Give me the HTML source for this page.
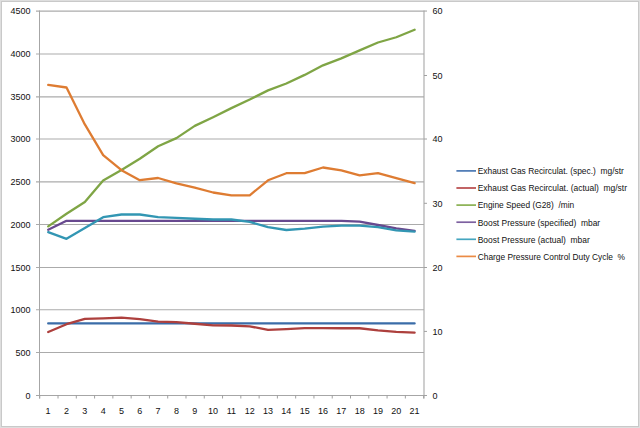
<!DOCTYPE html>
<html><head><meta charset="utf-8"><style>
html,body{margin:0;padding:0;background:#fff;}
body{width:640px;height:428px;overflow:hidden;position:relative;}
svg{position:absolute;left:0;top:0;display:block;}
text{font-family:"Liberation Sans",sans-serif;font-size:9px;fill:#111;}
</style></head><body>
<svg width="640" height="428" viewBox="0 0 640 428">
<rect x="0" y="0" width="640" height="428" fill="#fff"/>
<rect x="0.5" y="0.5" width="639" height="427" fill="none" stroke="#dedede" stroke-width="1"/>
<rect x="1.5" y="1.5" width="637" height="425" fill="none" stroke="#c9c9c9" stroke-width="1"/>
<defs><filter id="bl" x="-5%" y="-5%" width="110%" height="110%"><feGaussianBlur stdDeviation="0.3"/></filter></defs>
<g shape-rendering="auto"><line x1="36" x2="424" y1="11.05" y2="11.05" stroke="#ababab" stroke-width="1.15"/>
<line x1="36" x2="424" y1="54.00" y2="54.00" stroke="#ababab" stroke-width="1.15"/>
<line x1="36" x2="424" y1="96.80" y2="96.80" stroke="#ababab" stroke-width="1.15"/>
<line x1="36" x2="424" y1="139.00" y2="139.00" stroke="#ababab" stroke-width="1.15"/>
<line x1="36" x2="424" y1="181.80" y2="181.80" stroke="#ababab" stroke-width="1.15"/>
<line x1="36" x2="424" y1="224.50" y2="224.50" stroke="#ababab" stroke-width="1.15"/>
<line x1="36" x2="424" y1="267.50" y2="267.50" stroke="#ababab" stroke-width="1.15"/>
<line x1="36" x2="424" y1="309.70" y2="309.70" stroke="#ababab" stroke-width="1.15"/>
<line x1="36" x2="424" y1="352.50" y2="352.50" stroke="#ababab" stroke-width="1.15"/></g>
<g><line x1="39.5" x2="39.5" y1="10.5" y2="398.5" stroke="#a6a6a6" stroke-width="1"/>
<line x1="424" x2="424" y1="10.5" y2="398.5" stroke="#ababab" stroke-width="1.15"/>
<line x1="36" x2="426.5" y1="395.5" y2="395.5" stroke="#a6a6a6" stroke-width="1"/>
<line x1="39.75" x2="39.75" y1="395" y2="398.5" stroke="#a0a0a0" stroke-width="1"/>
<line x1="58.03" x2="58.03" y1="395" y2="398.5" stroke="#a0a0a0" stroke-width="1"/>
<line x1="76.31" x2="76.31" y1="395" y2="398.5" stroke="#a0a0a0" stroke-width="1"/>
<line x1="94.59" x2="94.59" y1="395" y2="398.5" stroke="#a0a0a0" stroke-width="1"/>
<line x1="112.87" x2="112.87" y1="395" y2="398.5" stroke="#a0a0a0" stroke-width="1"/>
<line x1="131.15" x2="131.15" y1="395" y2="398.5" stroke="#a0a0a0" stroke-width="1"/>
<line x1="149.43" x2="149.43" y1="395" y2="398.5" stroke="#a0a0a0" stroke-width="1"/>
<line x1="167.71" x2="167.71" y1="395" y2="398.5" stroke="#a0a0a0" stroke-width="1"/>
<line x1="185.99" x2="185.99" y1="395" y2="398.5" stroke="#a0a0a0" stroke-width="1"/>
<line x1="204.27" x2="204.27" y1="395" y2="398.5" stroke="#a0a0a0" stroke-width="1"/>
<line x1="222.55" x2="222.55" y1="395" y2="398.5" stroke="#a0a0a0" stroke-width="1"/>
<line x1="240.83" x2="240.83" y1="395" y2="398.5" stroke="#a0a0a0" stroke-width="1"/>
<line x1="259.11" x2="259.11" y1="395" y2="398.5" stroke="#a0a0a0" stroke-width="1"/>
<line x1="277.39" x2="277.39" y1="395" y2="398.5" stroke="#a0a0a0" stroke-width="1"/>
<line x1="295.67" x2="295.67" y1="395" y2="398.5" stroke="#a0a0a0" stroke-width="1"/>
<line x1="313.95" x2="313.95" y1="395" y2="398.5" stroke="#a0a0a0" stroke-width="1"/>
<line x1="332.23" x2="332.23" y1="395" y2="398.5" stroke="#a0a0a0" stroke-width="1"/>
<line x1="350.51" x2="350.51" y1="395" y2="398.5" stroke="#a0a0a0" stroke-width="1"/>
<line x1="368.79" x2="368.79" y1="395" y2="398.5" stroke="#a0a0a0" stroke-width="1"/>
<line x1="387.07" x2="387.07" y1="395" y2="398.5" stroke="#a0a0a0" stroke-width="1"/>
<line x1="405.35" x2="405.35" y1="395" y2="398.5" stroke="#a0a0a0" stroke-width="1"/>
<line x1="423.63" x2="423.63" y1="395" y2="398.5" stroke="#a0a0a0" stroke-width="1"/>
<line x1="424" x2="427" y1="395.50" y2="395.50" stroke="#a0a0a0" stroke-width="1"/>
<line x1="424" x2="427" y1="331.40" y2="331.40" stroke="#a0a0a0" stroke-width="1"/>
<line x1="424" x2="427" y1="267.50" y2="267.50" stroke="#a0a0a0" stroke-width="1"/>
<line x1="424" x2="427" y1="203.30" y2="203.30" stroke="#a0a0a0" stroke-width="1"/>
<line x1="424" x2="427" y1="139.00" y2="139.00" stroke="#a0a0a0" stroke-width="1"/>
<line x1="424" x2="427" y1="75.50" y2="75.50" stroke="#a0a0a0" stroke-width="1"/>
<line x1="424" x2="427" y1="11.05" y2="11.05" stroke="#a0a0a0" stroke-width="1"/></g>
<g filter="url(#bl)"><polyline points="48.20,323.40 66.52,323.40 84.84,323.40 103.16,323.40 121.48,323.40 139.80,323.40 158.12,323.40 176.44,323.40 194.76,323.40 213.08,323.40 231.40,323.40 249.72,323.40 268.04,323.40 286.36,323.40 304.68,323.40 323.00,323.40 341.32,323.40 359.64,323.40 377.96,323.40 396.28,323.40 414.60,323.40" fill="none" stroke="#3b6ca8" stroke-width="2.3" stroke-linejoin="round" stroke-linecap="round"/>
<polyline points="48.20,332.00 66.52,324.20 84.84,318.90 103.16,318.30 121.48,317.60 139.80,319.10 158.12,321.70 176.44,322.20 194.76,323.75 213.08,325.30 231.40,325.50 249.72,326.30 268.04,329.90 286.36,329.10 304.68,328.10 323.00,328.20 341.32,328.25 359.64,328.25 377.96,330.30 396.28,331.80 414.60,332.60" fill="none" stroke="#ad3f3d" stroke-width="2.3" stroke-linejoin="round" stroke-linecap="round"/>
<polyline points="48.20,226.40 66.52,213.80 84.84,202.00 103.16,180.50 121.48,170.00 139.80,158.80 158.12,146.30 176.44,138.10 194.76,125.90 213.08,117.20 231.40,108.10 249.72,99.50 268.04,90.40 286.36,83.50 304.68,74.90 323.00,65.30 341.32,58.40 359.64,50.40 377.96,42.50 396.28,37.25 414.60,29.75" fill="none" stroke="#7fa545" stroke-width="2.3" stroke-linejoin="round" stroke-linecap="round"/>
<polyline points="48.20,229.80 66.52,220.80 84.84,220.80 103.16,220.80 121.48,220.80 139.80,220.80 158.12,220.80 176.44,220.80 194.76,220.80 213.08,220.80 231.40,220.80 249.72,220.80 268.04,220.80 286.36,220.80 304.68,220.80 323.00,220.80 341.32,220.80 359.64,221.60 377.96,225.00 396.28,228.40 414.60,230.90" fill="none" stroke="#67498f" stroke-width="2.3" stroke-linejoin="round" stroke-linecap="round"/>
<polyline points="48.20,232.10 66.52,238.80 84.84,228.10 103.16,217.20 121.48,214.50 139.80,214.50 158.12,217.20 176.44,217.90 194.76,218.75 213.08,219.50 231.40,219.50 249.72,221.90 268.04,227.20 286.36,230.00 304.68,228.60 323.00,226.60 341.32,225.70 359.64,225.60 377.96,227.20 396.28,230.30 414.60,231.70" fill="none" stroke="#3296b3" stroke-width="2.3" stroke-linejoin="round" stroke-linecap="round"/>
<polyline points="48.20,84.80 66.52,87.50 84.84,124.40 103.16,155.20 121.48,170.20 139.80,180.20 158.12,178.00 176.44,183.30 194.76,187.70 213.08,192.50 231.40,195.30 249.72,195.30 268.04,180.30 286.36,173.20 304.68,173.10 323.00,167.50 341.32,170.30 359.64,175.30 377.96,173.20 396.28,178.10 414.60,183.10" fill="none" stroke="#de7c33" stroke-width="2.3" stroke-linejoin="round" stroke-linecap="round"/></g>
<g><text x="30.5" y="398.70" text-anchor="end">0</text>
<text x="30.5" y="355.70" text-anchor="end">500</text>
<text x="30.5" y="312.90" text-anchor="end">1000</text>
<text x="30.5" y="270.70" text-anchor="end">1500</text>
<text x="30.5" y="227.70" text-anchor="end">2000</text>
<text x="30.5" y="185.00" text-anchor="end">2500</text>
<text x="30.5" y="142.20" text-anchor="end">3000</text>
<text x="30.5" y="100.00" text-anchor="end">3500</text>
<text x="30.5" y="57.20" text-anchor="end">4000</text>
<text x="30.5" y="14.25" text-anchor="end">4500</text>
<text x="432.6" y="398.70">0</text>
<text x="432.6" y="334.60">10</text>
<text x="432.6" y="270.70">20</text>
<text x="432.6" y="206.50">30</text>
<text x="432.6" y="142.20">40</text>
<text x="432.6" y="78.70">50</text>
<text x="432.6" y="14.25">60</text>
<text x="47.90" y="413.9" text-anchor="middle">1</text>
<text x="66.52" y="413.9" text-anchor="middle">2</text>
<text x="84.84" y="413.9" text-anchor="middle">3</text>
<text x="103.16" y="413.9" text-anchor="middle">4</text>
<text x="121.48" y="413.9" text-anchor="middle">5</text>
<text x="139.80" y="413.9" text-anchor="middle">6</text>
<text x="158.12" y="413.9" text-anchor="middle">7</text>
<text x="176.44" y="413.9" text-anchor="middle">8</text>
<text x="194.76" y="413.9" text-anchor="middle">9</text>
<text x="213.08" y="413.9" text-anchor="middle">10</text>
<text x="231.40" y="413.9" text-anchor="middle">11</text>
<text x="249.72" y="413.9" text-anchor="middle">12</text>
<text x="268.04" y="413.9" text-anchor="middle">13</text>
<text x="286.36" y="413.9" text-anchor="middle">14</text>
<text x="304.68" y="413.9" text-anchor="middle">15</text>
<text x="323.00" y="413.9" text-anchor="middle">16</text>
<text x="341.32" y="413.9" text-anchor="middle">17</text>
<text x="359.64" y="413.9" text-anchor="middle">18</text>
<text x="377.96" y="413.9" text-anchor="middle">19</text>
<text x="396.28" y="413.9" text-anchor="middle">20</text>
<text x="414.60" y="413.9" text-anchor="middle">21</text></g>
<g><line x1="456.4" x2="476" y1="170.90" y2="170.90" stroke="#4a78b4" stroke-width="1.7"/>
<text x="477.7" y="174.10" textLength="146.20" lengthAdjust="spacingAndGlyphs" xml:space="preserve">Exhaust Gas Recirculat. (spec.)  mg/str</text>
<line x1="456.4" x2="476" y1="188.00" y2="188.00" stroke="#b8494a" stroke-width="1.7"/>
<text x="477.7" y="191.25" textLength="149.30" lengthAdjust="spacingAndGlyphs" xml:space="preserve">Exhaust Gas Recirculat. (actual)  mg/str</text>
<line x1="456.4" x2="476" y1="205.10" y2="205.10" stroke="#8ab052" stroke-width="1.7"/>
<text x="477.7" y="208.40" textLength="96.50" lengthAdjust="spacingAndGlyphs" xml:space="preserve">Engine Speed (G28)  /min</text>
<line x1="456.4" x2="476" y1="222.20" y2="222.20" stroke="#7d60a0" stroke-width="1.7"/>
<text x="477.7" y="225.55" textLength="122.50" lengthAdjust="spacingAndGlyphs" xml:space="preserve">Boost Pressure (specified)  mbar</text>
<line x1="456.4" x2="476" y1="239.30" y2="239.30" stroke="#45a6c0" stroke-width="1.7"/>
<text x="477.7" y="242.70" textLength="112.10" lengthAdjust="spacingAndGlyphs" xml:space="preserve">Boost Pressure (actual)  mbar</text>
<line x1="456.4" x2="476" y1="256.40" y2="256.40" stroke="#eb8b45" stroke-width="1.7"/>
<text x="477.7" y="259.85" textLength="147.30" lengthAdjust="spacingAndGlyphs" xml:space="preserve">Charge Pressure Control Duty Cycle  %</text></g>
</svg>
</body></html>
